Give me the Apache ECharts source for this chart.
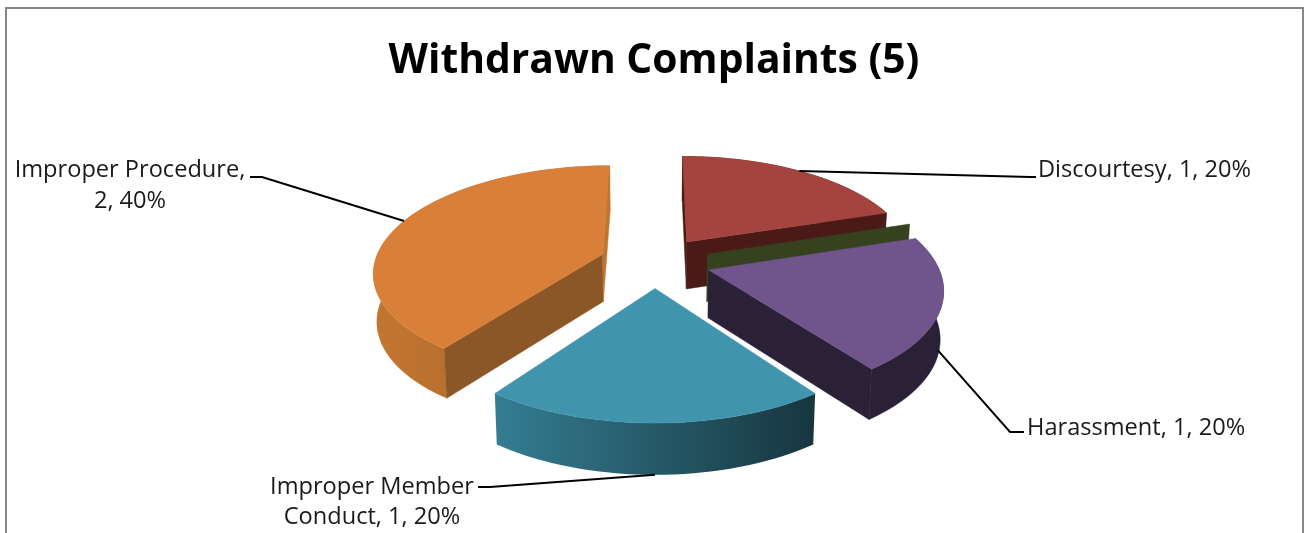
<!DOCTYPE html>
<html>
<head>
<meta charset="utf-8">
<style>html,body{margin:0;padding:0;background:#fff}#c{width:1310px;height:533px}</style>
<script src="https://cdn.jsdelivr.net/npm/echarts@6/dist/echarts.min.js"></script>
</head>
<body>
<div id="c"></div>
<script>
const titleText = 'Withdrawn Complaints (5)';
const categories = ['Discourtesy', 'Other', 'Harassment', 'Improper Member Conduct', 'Improper Procedure'];
const values = [1, 0, 1, 1, 2];
const topColors = ['#A5443F', '#36421F', '#70558C', '#4094AD', '#D8803A'];
const endEdgeColors = ['#4A1A17', '#36421F', '#2B2137', '#17363F', '#C0752F'];
const startEdgeColors = ['#4A1A17', '#36421F', '#2B2137', '#17363F', '#8C5726'];
const wallFrom = ['#4A1A17', '#36421F', '#2B2137', '#347D92', '#C27630'];
const wallTo = ['#4A1A17', '#36421F', '#2B2137', '#17363F', '#A5632A'];
const drawRank = [0, 1, 3, 4, 2];
const labelLines = [
  ['Discourtesy, 1, 20%'],
  [],
  ['Harassment, 1, 20%'],
  ['Improper Member', 'Conduct, 1, 20%'],
  ['Improper Procedure,', '2, 40%']
];

// layout of labels and leader lines (chart furniture, not data)
const labelLayout = [
  {x: 1038, y: 155.5, align: 'left', angle: 36, z: 0, elbow: [[1030, 177], [1036, 177]]},
  null,
  {x: 1027, y: 413, align: 'left', angle: 110, z: 0.85, elbow: [[1010, 432], [1024, 432]]},
  {x: 372, y: 472, align: 'center', angle: 180, z: 1, elbow: [[490, 487], [478, 487]]},
  {x: 130, y: 155.5, align: 'center', angle: 290, z: 0, elbow: [[262, 177], [250, 177]]}
];

const CX = 655, CY = 262, A = 228, B = 104.5, P = 0.155, E = 0.244, H = 47.5, BOTTOM = 0.012;
const total = values.reduce((a, b) => a + b, 0);
const rad = d => d * Math.PI / 180;

function project(X, Y, z) {
  const s = 1 / (1 + P * Y);
  return [CX + A * X * s * (1 - BOTTOM * z), CY - B * Y * s + H * z * Math.pow(s, 0.4)];
}

function sliceAngles(i) {
  let cum = 0;
  for (let k = 0; k < i; k++) cum += values[k];
  return [cum / total * 360, (cum + values[i]) / total * 360];
}

function renderSlice(params, api) {
  const i = params.dataIndex;
  const [a0, a1] = sliceAngles(i);
  const mid = rad((a0 + a1) / 2);
  const ox = E * Math.sin(mid), oy = E * Math.cos(mid);
  const rim = (deg, z) => project(ox + Math.sin(rad(deg)), oy + Math.cos(rad(deg)), z);
  const apex = z => project(ox, oy, z);
  const base = drawRank[i] * 10;
  const children = [];
  const poly = (points, fill, z2) => children.push({
    type: 'polygon', z2: base + z2, shape: {points},
    style: {fill, stroke: typeof fill === 'string' ? fill : null, lineWidth: 0.5}
  });
  const steps = Math.max(1, Math.round((a1 - a0) / 2));
  const arc = z => {
    const pts = [];
    for (let k = 0; k <= steps; k++) pts.push(rim(a0 + (a1 - a0) * k / steps, z));
    return pts;
  };
  const facesViewer = deg => Math.cos(rad(deg)) <= 1e-6;
  if (a1 > a0) {
    const wall = arc(0).concat(arc(1).reverse());
    const fill = wallFrom[i] === wallTo[i] ? wallFrom[i]
      : new echarts.graphic.LinearGradient(0, 0, 1, 0, [{offset: 0, color: wallFrom[i]}, {offset: 1, color: wallTo[i]}]);
    poly(wall, fill, 0);
  }
  if (facesViewer(a0 - 90)) poly([apex(0), rim(a0, 0), rim(a0, 1), apex(1)], startEdgeColors[i], 1);
  if (facesViewer(a1 + 90)) poly([apex(0), rim(a1, 0), rim(a1, 1), apex(1)], endEdgeColors[i], 2);
  if (a1 > a0) poly([apex(0)].concat(arc(0)), topColors[i], 3);

  const lay = labelLayout[i];
  if (lay) {
    const s = rim(lay.angle, lay.z);
    children.push({
      type: 'polyline', z2: 100,
      shape: {points: [s].concat(lay.elbow)},
      style: {fill: null, stroke: '#000', lineWidth: 2}
    });
    children.push({
      type: 'text', z2: 101,
      style: {
        x: lay.x, y: lay.y, text: labelLines[i].join('\n'),
        fill: '#1a1a1a', font: '23.6px "Open Sans"', lineHeight: 30.5,
        align: lay.align, verticalAlign: 'top'
      }
    });
  }
  return {type: 'group', children};
}

const chart = echarts.init(document.getElementById('c'), null, {renderer: 'canvas'});
chart.setOption({
  animation: false,
  backgroundColor: '#fff',
  title: {
    text: titleText, left: 649, top: 36, textAlign: 'center',
    textStyle: {fontFamily: 'Open Sans', fontSize: 40.8, fontWeight: 'bold', color: '#000'}
  },
  graphic: [{
    type: 'polyline', silent: true, z: -1,
    shape: {points: [[6, 533], [6, 8], [1303, 8], [1303, 533]]},
    style: {fill: null, stroke: '#868686', lineWidth: 2}
  }],
  series: [{
    type: 'custom',
    coordinateSystem: 'none',
    renderItem: renderSlice,
    data: values.map((v, i) => ({name: categories[i], value: [v]}))
  }]
});
</script>
</body>
</html>
